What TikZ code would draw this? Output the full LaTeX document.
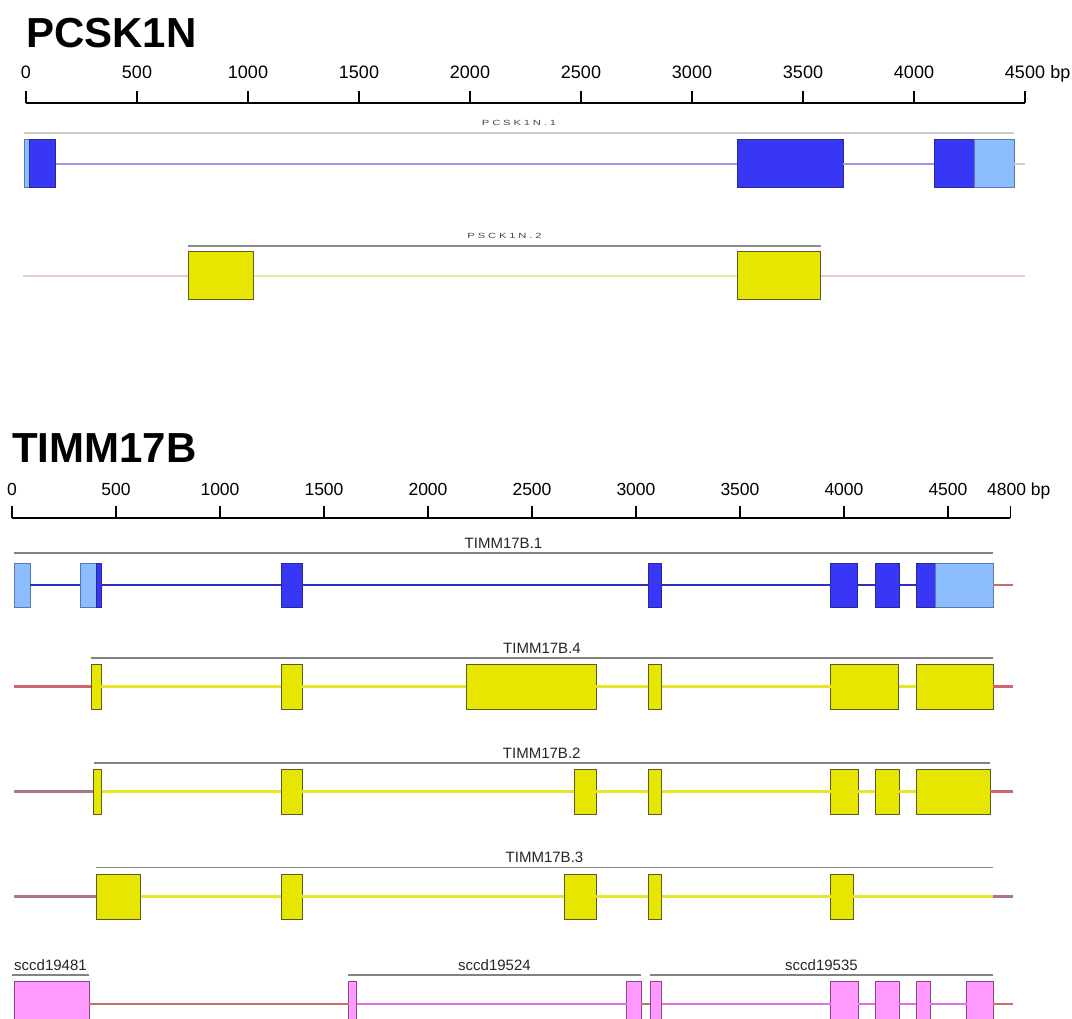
\documentclass[tikz,border=0pt]{standalone}
\usepackage{fontspec}
\usepackage{graphicx}
\setmainfont{Liberation Sans}
\newfontfamily\tinyfont[LetterSpace=25]{Liberation Sans}
\definecolor{dblue}{RGB}{55,55,245}
\definecolor{dblueB}{RGB}{40,40,150}
\definecolor{lblue}{RGB}{140,190,255}
\definecolor{lblueB}{RGB}{90,120,170}
\definecolor{yel}{RGB}{230,230,0}
\definecolor{yelB}{RGB}{90,90,40}
\definecolor{pnk}{RGB}{255,153,255}
\definecolor{pnkB}{RGB}{140,70,140}
\definecolor{lav}{RGB}{160,150,218}
\definecolor{intB}{RGB}{45,45,200}
\definecolor{ltyel}{RGB}{236,236,150}
\definecolor{yline}{RGB}{232,228,40}
\definecolor{ltpink}{RGB}{230,200,215}
\definecolor{redl}{RGB}{210,100,110}
\definecolor{mauve}{RGB}{170,120,140}
\definecolor{brownl}{RGB}{195,115,100}
\definecolor{magl}{RGB}{230,110,230}
\definecolor{txgray}{RGB}{130,130,130}
\definecolor{txlight}{RGB}{205,205,205}
\definecolor{tiny}{RGB}{70,70,70}
\newcommand\exon[6]{\node[#1, minimum width={(#4-#3)*1pt}, minimum height={#6*1pt}] (#2) at (#3,#5) {};}
\newcommand\wide[1]{\scalebox{1.5}[1]{#1}}
\begin{document}
\begin{tikzpicture}[x=1pt,y=-1pt,
  exon/.style={rectangle, inner sep=0pt, outer sep=0pt, anchor=north west, line width=1pt},
  dex/.style={exon, fill=dblue, draw=dblueB},
  lex/.style={exon, fill=lblue, draw=lblueB},
  yex/.style={exon, fill=yel, draw=yelB},
  pex/.style={exon, fill=pnk, draw=pnkB},
  axisline/.style={line width=1.8pt, black},
  tickline/.style={line width=1.6pt, black},
  title/.style={anchor=base west, inner sep=0pt, font=\fontsize{42}{42}\selectfont\bfseries},
  ticklabA/.style={anchor=base, inner sep=0pt, font=\fontsize{18}{18}\selectfont},
  ticklabB/.style={anchor=base, inner sep=0pt, font=\fontsize{17.5}{17.5}\selectfont},
  toptx/.style={line width=1.8pt, txlight},
  bottx/.style={line width=1.8pt, txgray},
  toplab/.style={midway, anchor=base, yshift=7pt, inner sep=0pt, text=tiny, font=\fontsize{7.5}{7.5}\tinyfont},
  botlab/.style={midway, anchor=base, yshift=5pt, inner sep=0pt, text=black!85, font=\fontsize{15}{15}\selectfont},
  intr/.style={line width=2.4pt}
]
\useasboundingbox (0,0) rectangle (1072,1019);
\clip (0,0) rectangle (1072,1019);
\fill[white] (0,0) rectangle (1072,1019);

% ---------------- PCSK1N ----------------
\node[title] (t1) at (26,48) {PCSK1N};
\coordinate (axA0) at (26,103);
\coordinate (axA1) at (1025,103);
\draw[axisline] (axA0) -- (axA1);
\foreach \v in {0,500,...,4500}{
  \coordinate (tka\v) at ({26+\v*0.222},103);
  \draw[tickline] (tka\v) -- ++(0,-12);
  \node[ticklabA] (tla\v) at ({26+\v*0.222},78.5) {\v};
}
\node[anchor=base west, inner sep=0pt, font=\fontsize{18}{18}\selectfont] (bpA) at ([xshift=5pt]tla4500.base east) {bp};

% PCSK1N.1
\coordinate (ga1) at (24,133); \coordinate (ga2) at (1014,133);
\draw[toptx] (ga1) -- node[toplab] (la) {\wide{PCSK1N.1}} (ga2);
\exon{lex}{a1}{24}{29}{140}{48}
\exon{dex}{a2}{29}{55.5}{140}{48}
\exon{dex}{a3}{737}{843}{140}{48}
\exon{dex}{a4}{934}{974.5}{140}{48}
\exon{lex}{a5}{974.5}{1014}{140}{48}
\coordinate (aend) at (1025,164);
\draw[intr, lav] (a2.east) -- (a3.west);
\draw[intr, lav] (a3.east) -- (a4.west);
\draw[intr, txlight] (a5.east) -- (aend);

% PSCK1N.2
\coordinate (gb1) at (188,246); \coordinate (gb2) at (821,246);
\draw[toptx, black!45] (gb1) -- node[toplab] (lb) {\wide{PSCK1N.2}} (gb2);
\exon{yex}{b1}{188}{253.5}{252}{48}
\exon{yex}{b2}{737}{820.5}{252}{48}
\coordinate (bst) at (23,276); \coordinate (bend) at (1025,276);
\draw[intr, ltpink] (bst) -- (b1.west);
\draw[intr, ltyel] (b1.east) -- (b2.west);
\draw[intr, ltpink] (b2.east) -- (bend);

% ---------------- TIMM17B ----------------
\node[title] (t2) at (12,462) {TIMM17B};
\coordinate (axB0) at (12,518);
\coordinate (axB1) at (1010.4,518);
\draw[axisline] (axB0) -- (axB1);
\foreach \v in {0,500,...,4500}{
  \coordinate (tkb\v) at ({12+\v*0.208},518);
  \draw[tickline] (tkb\v) -- ++(0,-12);
  \node[ticklabB] (tlb\v) at ({12+\v*0.208},495) {\v};
}
\draw[tickline] (axB1) -- ++(0,-12);
\node[anchor=base west, inner sep=0pt, font=\fontsize{17.5}{17.5}\selectfont] (bpB) at (987,495) {4800 bp};

% TIMM17B.1
\coordinate (gc1) at (14,553); \coordinate (gc2) at (993,553);
\draw[bottx] (gc1) -- node[botlab] (lc) {TIMM17B.1} (gc2);
\exon{lex}{c1}{14}{30}{563}{44}
\exon{lex}{c2}{80}{96}{563}{44}
\exon{dex}{c3}{96}{101}{563}{44}
\exon{dex}{c4}{281}{302}{563}{44}
\exon{dex}{c5}{648}{661.5}{563}{44}
\exon{dex}{c6}{830.5}{857.5}{563}{44}
\exon{dex}{c7}{875}{899}{563}{44}
\exon{dex}{c8}{916}{935.5}{563}{44}
\exon{lex}{c9}{935.5}{993}{563}{44}
\coordinate (cend) at (1013,585);
\draw[intr, intB] (c1.east) -- (c2.west);
\draw[intr, intB] (c3.east) -- (c4.west);
\draw[intr, intB] (c4.east) -- (c5.west);
\draw[intr, intB] (c5.east) -- (c6.west);
\draw[intr, intB] (c6.east) -- (c7.west);
\draw[intr, intB] (c7.east) -- (c8.west);
\draw[line width=1.6pt, brownl] (c9.east) -- (cend);

% TIMM17B.4
\coordinate (gd1) at (91,658); \coordinate (gd2) at (993,658);
\draw[bottx] (gd1) -- node[botlab] (ld) {TIMM17B.4} (gd2);
\exon{yex}{d1}{91}{101}{664}{45}
\exon{yex}{d2}{281}{302}{664}{45}
\exon{yex}{d3}{466}{596}{664}{45}
\exon{yex}{d4}{648}{661.5}{664}{45}
\exon{yex}{d5}{830.5}{898.5}{664}{45}
\exon{yex}{d6}{916}{993}{664}{45}
\coordinate (dst) at (14,686.5); \coordinate (dend) at (1013,686.5);
\draw[intr, redl] (dst) -- (d1.west);
\draw[intr, yline] (d1.east) -- (d2.west);
\draw[intr, yline] (d2.east) -- (d3.west);
\draw[intr, yline] (d3.east) -- (d4.west);
\draw[intr, yline] (d4.east) -- (d5.west);
\draw[intr, yline] (d5.east) -- (d6.west);
\draw[intr, redl] (d6.east) -- (dend);

% TIMM17B.2
\coordinate (ge1) at (93.5,763); \coordinate (ge2) at (990,763);
\draw[bottx] (ge1) -- node[botlab] (le) {TIMM17B.2} (ge2);
\exon{yex}{e1}{93}{101.5}{769}{45}
\exon{yex}{e2}{281}{302}{769}{45}
\exon{yex}{e3}{574}{596}{769}{45}
\exon{yex}{e4}{648}{661.5}{769}{45}
\exon{yex}{e5}{830.5}{858}{769}{45}
\exon{yex}{e6}{875}{899}{769}{45}
\exon{yex}{e7}{916}{990}{769}{45}
\coordinate (est) at (14,791.5); \coordinate (eend) at (1013,791.5);
\draw[intr, mauve] (est) -- (e1.west);
\draw[intr, yline] (e1.east) -- (e2.west);
\draw[intr, yline] (e2.east) -- (e3.west);
\draw[intr, yline] (e3.east) -- (e4.west);
\draw[intr, yline] (e4.east) -- (e5.west);
\draw[intr, yline] (e5.east) -- (e6.west);
\draw[intr, yline] (e6.east) -- (e7.west);
\draw[intr, redl] (e7.east) -- (eend);

% TIMM17B.3
\coordinate (gf1) at (96,867.5); \coordinate (gf2) at (993,867.5);
\draw[bottx] (gf1) -- node[botlab] (lf) {TIMM17B.3} (gf2);
\exon{yex}{f1}{96}{140.5}{874}{45}
\exon{yex}{f2}{281}{302}{874}{45}
\exon{yex}{f3}{564}{596}{874}{45}
\exon{yex}{f4}{648}{661.5}{874}{45}
\exon{yex}{f5}{830.5}{853}{874}{45}
\coordinate (fst) at (14,896.5); \coordinate (f6) at (993,896.5); \coordinate (fend) at (1013,896.5);
\draw[intr, mauve] (fst) -- (f1.west);
\draw[intr, yline] (f1.east) -- (f2.west);
\draw[intr, yline] (f2.east) -- (f3.west);
\draw[intr, yline] (f3.east) -- (f4.west);
\draw[intr, yline] (f4.east) -- (f5.west);
\draw[intr, yline] (f5.east) -- (f6);
\draw[intr, mauve] (f6) -- (fend);

% sccd genes
\coordinate (gg1) at (12,975); \coordinate (gg2) at (89,975);
\draw[bottx] (gg1) -- node[botlab] (lg1) {sccd19481} (gg2);
\coordinate (gh1) at (348,975); \coordinate (gh2) at (641,975);
\draw[bottx] (gh1) -- node[botlab] (lg2) {sccd19524} (gh2);
\coordinate (gi1) at (650,975); \coordinate (gi2) at (993,975);
\draw[bottx] (gi1) -- node[botlab] (lg3) {sccd19535} (gi2);
\exon{pex}{g1}{14}{89}{981}{46}
\exon{pex}{g2}{348.5}{356.5}{981}{46}
\exon{pex}{g3}{626.5}{641}{981}{46}
\exon{pex}{g4}{650}{661.5}{981}{46}
\exon{pex}{g5}{830.5}{858}{981}{46}
\exon{pex}{g6}{875}{899}{981}{46}
\exon{pex}{g7}{916}{930}{981}{46}
\exon{pex}{g8}{966.5}{993}{981}{46}
\coordinate (gend) at (1013,1004);
\draw[intr, brownl] (g1.east) -- (g2.west);
\draw[intr, magl] (g2.east) -- (g3.west);
\draw[intr, brownl] (g3.east) -- (g4.west);
\draw[intr, magl] (g4.east) -- (g5.west);
\draw[intr, magl] (g5.east) -- (g6.west);
\draw[intr, magl] (g6.east) -- (g7.west);
\draw[intr, magl] (g7.east) -- (g8.west);
\draw[intr, brownl] (g8.east) -- (gend);
\end{tikzpicture}
\end{document}
